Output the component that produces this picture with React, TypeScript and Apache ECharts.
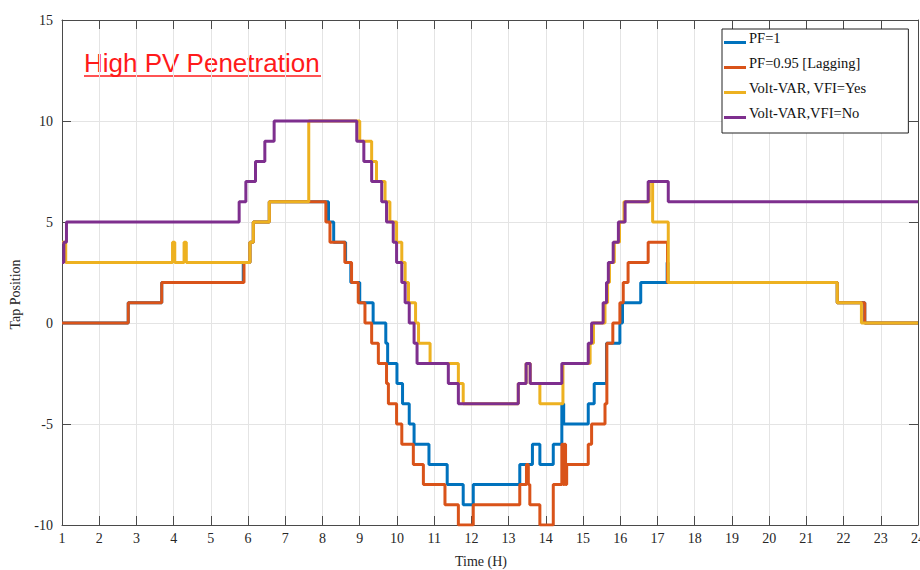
import React, { useEffect, useRef } from "react";
import * as echarts from "echarts";

// ---- data (time in hours, tap position), values change at each listed time ----
const seriesNames = ["PF=1", "PF=0.95 [Lagging]", "Volt-VAR, VFI=Yes", "Volt-VAR,VFI=No"];
const seriesColors = ["#0072BD", "#D95319", "#EDB120", "#7E2F8E"];

const pfOne: number[][] = [
  [1, 0], [2.78, 1], [3.68, 2], [5.87, 3], [6.05, 4], [6.14, 5], [6.57, 6],
  [8.16, 5], [8.3, 4], [8.62, 3], [8.76, 2], [9.0, 1], [9.36, 0], [9.7, -1], [9.75, -2],
  [10.0, -3], [10.15, -4], [10.33, -5], [10.46, -6], [10.86, -7], [11.35, -8], [11.78, -9],
  [12.05, -8], [13.3, -7], [13.64, -6], [13.84, -7], [14.2, -6], [14.43, -4], [14.48, -5],
  [15.14, -4], [15.3, -3], [15.63, -1], [15.99, 0], [16.06, 1], [16.55, 2],
  [17.26, 3], [17.28, 2], [21.83, 1], [22.57, 0], [24, 0],
];

const pfLagging: number[][] = [
  [1, 0], [2.78, 1], [3.68, 2], [5.89, 3], [6.05, 4], [6.14, 5], [6.57, 6],
  [8.09, 5], [8.2, 4], [8.6, 3], [8.78, 2], [8.96, 1], [9.14, 0], [9.32, -1], [9.5, -2],
  [9.72, -3], [9.77, -4], [9.99, -5], [10.13, -6], [10.44, -7], [10.71, -8], [11.29, -9],
  [11.65, -10], [12.05, -9], [13.3, -8], [13.48, -7], [13.53, -8], [13.57, -9], [13.84, -10],
  [14.2, -8], [14.43, -6], [14.47, -8], [14.5, -6], [14.53, -8], [14.56, -7], [15.14, -6],
  [15.23, -5], [15.59, -4], [15.64, -1], [15.8, 0], [15.99, 1], [16.08, 2], [16.21, 3],
  [16.75, 4], [17.27, 2], [21.83, 1], [22.57, 0], [24, 0],
];

const voltVarYes: number[][] = [
  [1, 4], [1.1, 3], [3.97, 4], [4.03, 3], [4.28, 4], [4.34, 3], [6.05, 4], [6.14, 5],
  [6.57, 6], [7.63, 10], [9.0, 9], [9.32, 8], [9.45, 7], [9.68, 6], [9.81, 5], [9.99, 4],
  [10.13, 3], [10.22, 2], [10.31, 1], [10.5, 0], [10.58, -1], [10.89, -2], [11.65, -3],
  [11.78, -4], [13.26, -3], [13.47, -2], [13.58, -3], [13.84, -4], [14.46, -2], [15.19, -1],
  [15.28, 0], [15.59, 1], [15.66, 2], [15.71, 3], [15.84, 4], [15.98, 5], [16.1, 6],
  [16.78, 7], [16.87, 5], [17.29, 2], [21.83, 1], [22.48, 0], [24, 0],
];

const voltVarNo: number[][] = [
  [1, 3], [1.05, 4], [1.12, 5], [5.76, 6], [5.94, 7], [6.2, 8], [6.45, 9], [6.7, 10],
  [8.92, 9], [9.11, 8], [9.32, 7], [9.59, 6], [9.72, 5], [9.9, 4], [9.99, 3], [10.13, 2],
  [10.22, 1], [10.33, 0], [10.46, -1], [10.54, -2], [11.38, -3], [11.65, -4], [13.26, -3],
  [13.47, -2], [13.58, -3], [14.43, -2], [15.14, -1], [15.23, 0], [15.54, 1], [15.63, 2],
  [15.68, 3], [15.81, 4], [15.95, 5], [16.13, 6], [16.75, 7], [17.29, 6], [24, 6],
];

const seriesData = [pfOne, pfLagging, voltVarYes, voltVarNo];

const xMin = 1, xMax = 24, xStep = 1;
const yMin = -10, yMax = 15, yStep = 5;

const titleText = "High PV Penetration";
const xName = "Time (H)";
const yName = "Tap Position";

const serif = "'Liberation Serif', 'Times New Roman', serif";
const axisColor = "#4a4a4a";
const gridColor = "#e4e4e4";

export default function App() {
  const ref = useRef<HTMLDivElement>(null);

  useEffect(() => {
    if (!ref.current) return;
    const chart = echarts.init(ref.current, undefined, { renderer: "svg" });

    const tickStyle = { show: true, inside: true, length: 9, lineStyle: { color: axisColor } };
    const lineStyleAxis = { show: true, onZero: false, lineStyle: { color: axisColor, width: 1 } };

    chart.setOption({
      animation: false,
      backgroundColor: "#ffffff",
      grid: { left: 62, right: 2, top: 20, bottom: 45, containLabel: false, outerBoundsMode: "none" },
      legend: {
        orient: "vertical",
        left: 722,
        top: 29,
        backgroundColor: "#ffffff",
        borderColor: "#222222",
        borderWidth: 1,
        borderRadius: 0,
        padding: [1, 42, 13, 2],
        itemWidth: 22,
        itemHeight: 14,
        itemGap: 10,
        icon: "path://M0,0L22,0L22,0.01Z M0,10L22,10L22,13L0,13Z",
        textStyle: { fontFamily: serif, fontSize: 14.5, color: "#111", lineHeight: 14, padding: [0, 0, 0, -2] },
        data: seriesNames,
      },
      xAxis: [
        {
          type: "value",
          min: xMin,
          max: xMax,
          interval: xStep,
          position: "bottom",
          axisLine: lineStyleAxis,
          axisTick: tickStyle,
          axisLabel: { fontFamily: serif, fontSize: 14, color: "#262626", margin: 6, showMaxLabel: true, showMinLabel: true },
          splitLine: { show: true, lineStyle: { color: gridColor, width: 1 } },
          name: xName,
          nameLocation: "middle",
          nameGap: 29,
          nameTextStyle: { fontFamily: serif, fontSize: 14, color: "#262626", padding: [0, 18, 0, 0] },
        },
        {
          type: "value",
          min: xMin,
          max: xMax,
          interval: xStep,
          position: "top",
          axisLine: lineStyleAxis,
          axisTick: tickStyle,
          axisLabel: { show: false },
          splitLine: { show: false },
        },
      ],
      yAxis: [
        {
          type: "value",
          min: yMin,
          max: yMax,
          interval: yStep,
          position: "left",
          axisLine: lineStyleAxis,
          axisTick: tickStyle,
          axisLabel: { fontFamily: serif, fontSize: 14, color: "#262626", margin: 9, padding: [0, 0, 10, 0] },
          splitLine: { show: true, lineStyle: { color: gridColor, width: 1 } },
          name: yName,
          nameLocation: "middle",
          nameGap: 40,
          nameTextStyle: { fontFamily: serif, fontSize: 14, color: "#262626", padding: [0, 44, 0, 0] },
        },
        {
          type: "value",
          min: yMin,
          max: yMax,
          interval: yStep,
          position: "right",
          axisLine: lineStyleAxis,
          axisTick: tickStyle,
          axisLabel: { show: false },
          splitLine: { show: false },
        },
      ],
      graphic: [
        {
          type: "text",
          left: 84,
          top: 50,
          style: {
            text: titleText,
            fill: "#ff1a1a",
            fontFamily: "'Liberation Sans', Arial, sans-serif",
            fontSize: 26,
          },
        },
        {
          type: "line",
          shape: { x1: 84, y1: 76, x2: 321, y2: 76 },
          style: { stroke: "#ff1a1a", lineWidth: 1.6 },
        },
      ],
      series: seriesData.map((d, i) => ({
        type: "line",
        name: seriesNames[i],
        data: d,
        step: "end",
        xAxisIndex: 0,
        yAxisIndex: 0,
        showSymbol: false,
        symbol: "none",
        color: seriesColors[i],
        lineStyle: { color: seriesColors[i], width: 3 },
        emphasis: { disabled: true },
        z: 2 + i,
      })),
    });

    return () => chart.dispose();
  }, []);

  return (
    <div
      ref={ref}
      style={{ position: "fixed", left: 0, top: 0, width: 920, height: 570, background: "#fff" }}
    />
  );
}
